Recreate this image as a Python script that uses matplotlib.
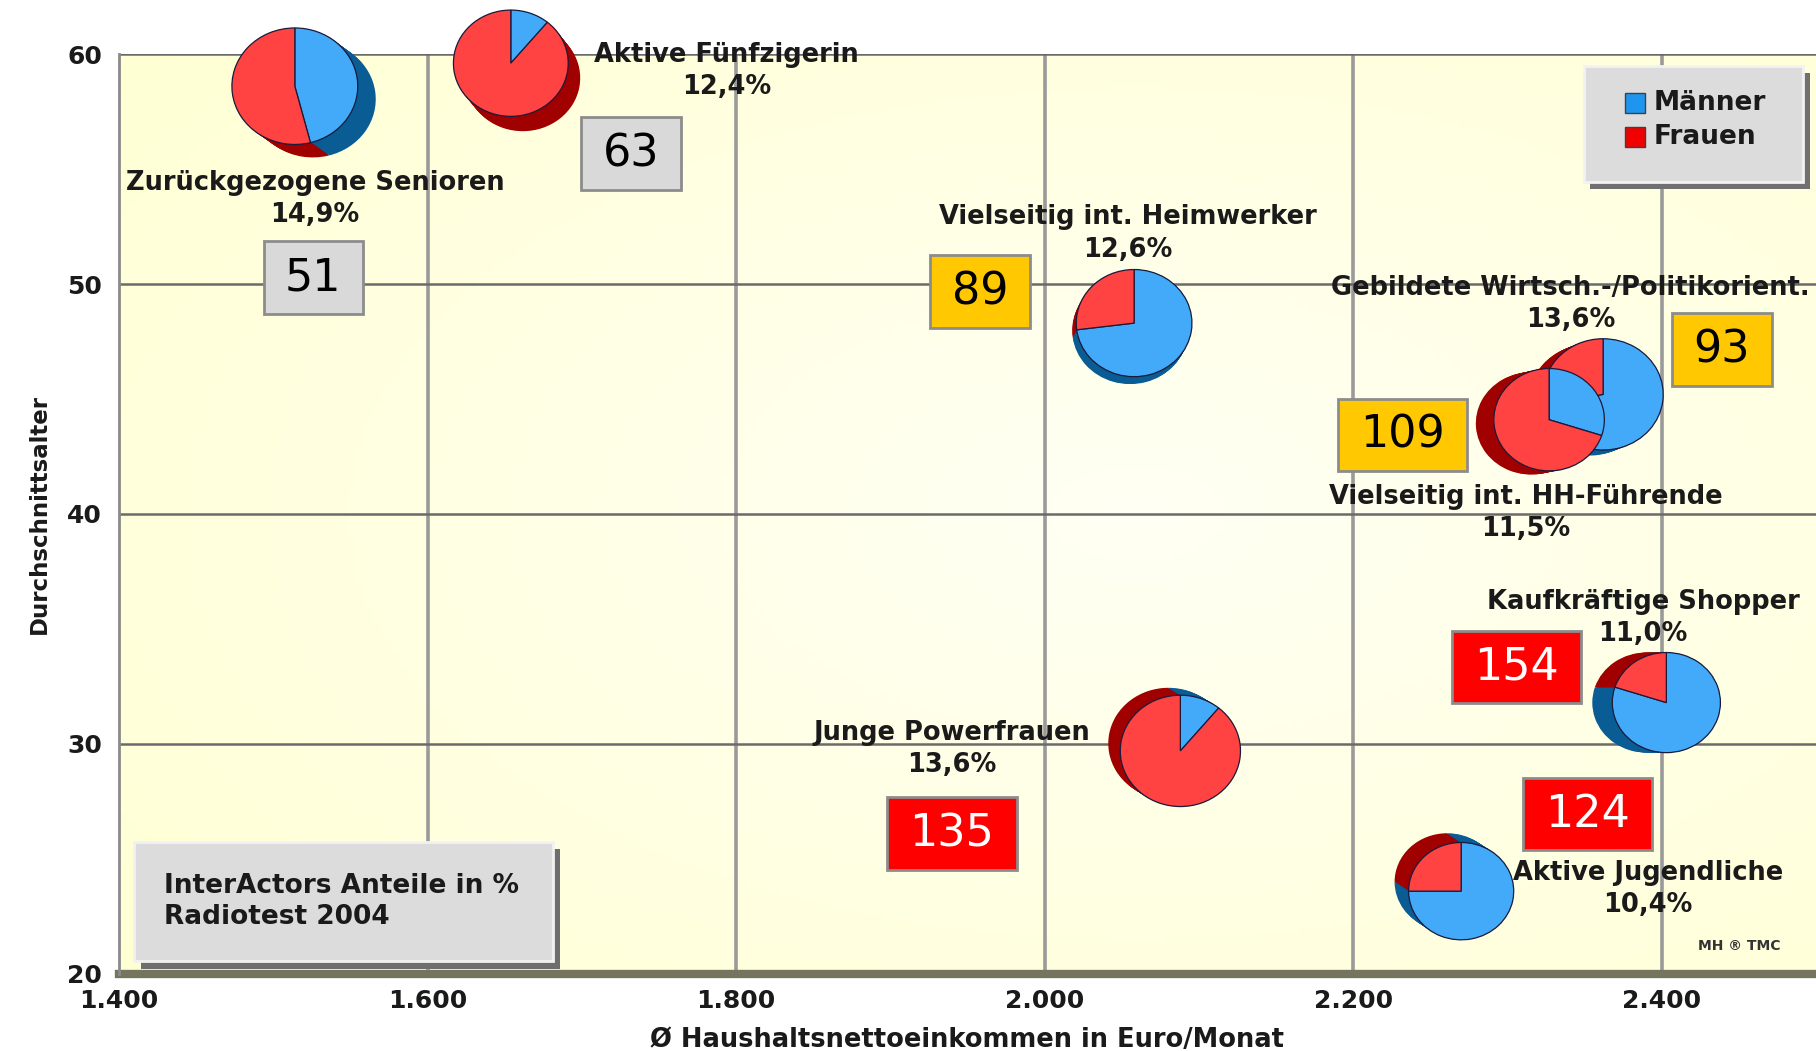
import numpy as np
import matplotlib.pyplot as plt
from matplotlib.patches import Rectangle
from matplotlib.colors import LinearSegmentedColormap

plt.rcParams['font.family'] = ['DejaVu Sans']

# Daten: InterActors-Segmente
segments = ["Zurückgezogene Senioren", "Aktive Fünfzigerin", "Vielseitig int. Heimwerker",
            "Gebildete Wirtsch.-/Politikorient.", "Vielseitig int. HH-Führende",
            "Kaufkräftige Shopper", "Junge Powerfrauen", "Aktive Jugendliche"]
shares = [14.9, 12.4, 12.6, 13.6, 11.5, 11.0, 13.6, 10.4]
income = [1514, 1654, 2058, 2362, 2327, 2403, 2088, 2270]
age = [58.6, 59.6, 48.3, 45.2, 44.1, 31.8, 29.7, 23.6]
maenner = [46, 11, 73, 72, 30, 80, 11, 75]
index_values = [51, 63, 89, 93, 109, 154, 135, 124]

# Positionen der Beschriftungen (Datenkoordinaten)
label_pos = [(1527, 53.7), (1794, 59.25), (2054, 52.2), (2341, 49.12),
             (2312, 40.05), (2388, 35.47), (1940, 29.77), (2391, 23.68)]
index_pos = [(1526, 50.28), (1732, 55.67), (1958, 49.67), (2439, 47.15),
             (2232, 43.43), (2306, 33.35), (1940, 26.1), (2352, 26.95)]
# 3D-Tiefe der Torten in Pixeln
depth = [(18, -14), (12, -16), (-4, -8), (-14, -6), (-18, -4), (-20, 0), (-12, 8), (-14, 10)]

x_ticks = [1400, 1600, 1800, 2000, 2200, 2400]
y_ticks = [20, 30, 40, 50, 60]

BLUE, RED = "#42AAF8", "#FF4242"
DBLUE, DRED = "#0A5C94", "#A00000"
TXT = "#1A1A1A"


def index_color(v):
    if v <= 80:
        return "#D9D9D9", "black"
    if v <= 110:
        return "#FFC800", "black"
    return "#FF0000", "white"


def pct(v):
    return f"{v:.1f}%".replace(".", ",")


fig = plt.figure(figsize=(18.16, 10.51), dpi=100)
ax = fig.add_axes([0.0655, 0.0733, 0.9345, 0.8753])
ax.set_xlim(1400, 2500)
ax.set_ylim(20, 60)

cmap = LinearSegmentedColormap.from_list("bg", ["#FFFFF4", "#FFFFD4"])
gy, gx = np.mgrid[0:1:200j, 0:1:200j]
ax.imshow(np.hypot(gx - 0.6, gy - 0.5), extent=(1400, 2500, 20, 60), origin="lower",
          cmap=cmap, aspect="auto", zorder=0)

for x in x_ticks[1:]:
    ax.axvline(x, color="#9A9A9A", lw=2.6, zorder=1)
for y in y_ticks[1:]:
    ax.axhline(y, color="#6A6A6A", lw=1.8, zorder=1)
ax.axhline(20, color="#74745F", lw=6, zorder=2, clip_on=False)

for s in ["top", "right", "bottom"]:
    ax.spines[s].set_visible(False)
ax.spines["left"].set_color("#8A8A8A")
ax.spines["left"].set_linewidth(2)

ax.set_xticks(x_ticks)
ax.set_xticklabels([f"{v:,}".replace(",", ".") for v in x_ticks], fontsize=18, fontweight="bold")
ax.set_yticks(y_ticks)
ax.set_yticklabels([str(v) for v in y_ticks], fontsize=18, fontweight="bold")
ax.tick_params(length=0, pad=12, axis="y", labelcolor=TXT)
ax.tick_params(length=0, pad=11, axis="x", labelcolor=TXT)
ax.set_xlabel("Ø Haushaltsnettoeinkommen in Euro/Monat", fontsize=18.5, fontweight="bold",
              labelpad=10, color=TXT)
ax.set_ylabel("Durchschnittsalter", fontsize=16.5, fontweight="bold", labelpad=12, color=TXT)

# Beschriftungen (Name und Anteil als zwei Zeilen)
for name, share, (lx, ly) in zip(segments, shares, label_pos):
    ax.text(lx, ly + 0.7, name, ha="center", va="center", fontsize=18.5,
            fontweight="bold", color=TXT, zorder=3, clip_on=False)
    ax.text(lx, ly - 0.7, pct(share), ha="center", va="center", fontsize=18.5,
            fontweight="bold", color=TXT, zorder=3, clip_on=False)

# Index-Boxen
for v, (bx, by) in zip(index_values, index_pos):
    fc, tc = index_color(v)
    w = 64.5 if v < 100 else 84
    ax.add_patch(Rectangle((bx - w / 2, by - 1.58), w, 3.16, facecolor=fc,
                           edgecolor="#8C8C8C", lw=2, zorder=3))
    ax.text(bx, by, str(v), ha="center", va="center", fontsize=32, color=tc, zorder=4)

# Legende
tr = ax.transAxes
ax.add_patch(Rectangle((0.867, 0.853), 0.1295, 0.126, transform=tr, facecolor="#707070",
                       lw=0, zorder=5, clip_on=False))
ax.add_patch(Rectangle((0.863, 0.861), 0.1295, 0.126, transform=tr, facecolor="#DCDCDC",
                       edgecolor="#F2F2F2", lw=2, zorder=6, clip_on=False))
for i, (lab, col) in enumerate([("Männer", "#1E96F0"), ("Frauen", "#F00000")]):
    yy = 0.947 - i * 0.037
    ax.add_patch(Rectangle((0.8875, yy - 0.011), 0.0115, 0.022, transform=tr, facecolor=col,
                           edgecolor="#404040", lw=1, zorder=7))
    ax.text(0.9045, yy, lab, transform=tr, fontsize=19, fontweight="bold", va="center",
            color=TXT, zorder=7)

# Infobox
ax.add_patch(Rectangle((0.0129, 0.0059), 0.2471, 0.1297, transform=tr, facecolor="#6E6E6E",
                       lw=0, zorder=5))
ax.add_patch(Rectangle((0.0089, 0.0139), 0.2471, 0.1297, transform=tr, facecolor="#DCDCDC",
                       edgecolor="#F2F2F2", lw=2, zorder=6))
ax.text(0.0266, 0.0957, "InterActors Anteile in %", transform=tr, fontsize=19,
        fontweight="bold", va="center", color=TXT, zorder=7)
ax.text(0.0266, 0.0617, "Radiotest 2004", transform=tr, fontsize=19,
        fontweight="bold", va="center", color=TXT, zorder=7)
ax.text(2450, 21.2, "MH ® TMC", fontsize=10, fontweight="bold", ha="center", va="center",
        color="#333333", zorder=3)

# 3D-Torten
W, H = fig.get_size_inches() * fig.dpi
for i in range(len(segments)):
    cx, cy = ax.transData.transform((income[i], age[i]))
    r = 16.3 * np.sqrt(shares[i])
    half = r * 1.6
    pax = fig.add_axes([(cx - half) / W, (cy - half) / H, 2 * half / W, 2 * half / H])
    vals = [maenner[i], 100 - maenner[i]]
    ddx, ddy = depth[i]
    steps = 12
    for k in range(steps, 0, -1):
        pax.pie(vals, colors=[DBLUE, DRED], startangle=90, counterclock=False,
                center=(ddx / r * k / steps, ddy / r * k / steps), radius=1,
                wedgeprops=dict(linewidth=0))
    pax.pie(vals, colors=[BLUE, RED], startangle=90, counterclock=False, radius=1,
            wedgeprops=dict(edgecolor="#1A1A3A", linewidth=0.9))
    pax.set_aspect("auto")
    pax.set_xlim(-1.6, 1.6)
    pax.set_ylim(-1.6 * 1.08, 1.6 * 1.08)
    pax.axis("off")

fig.savefig("out.png", dpi=100)
